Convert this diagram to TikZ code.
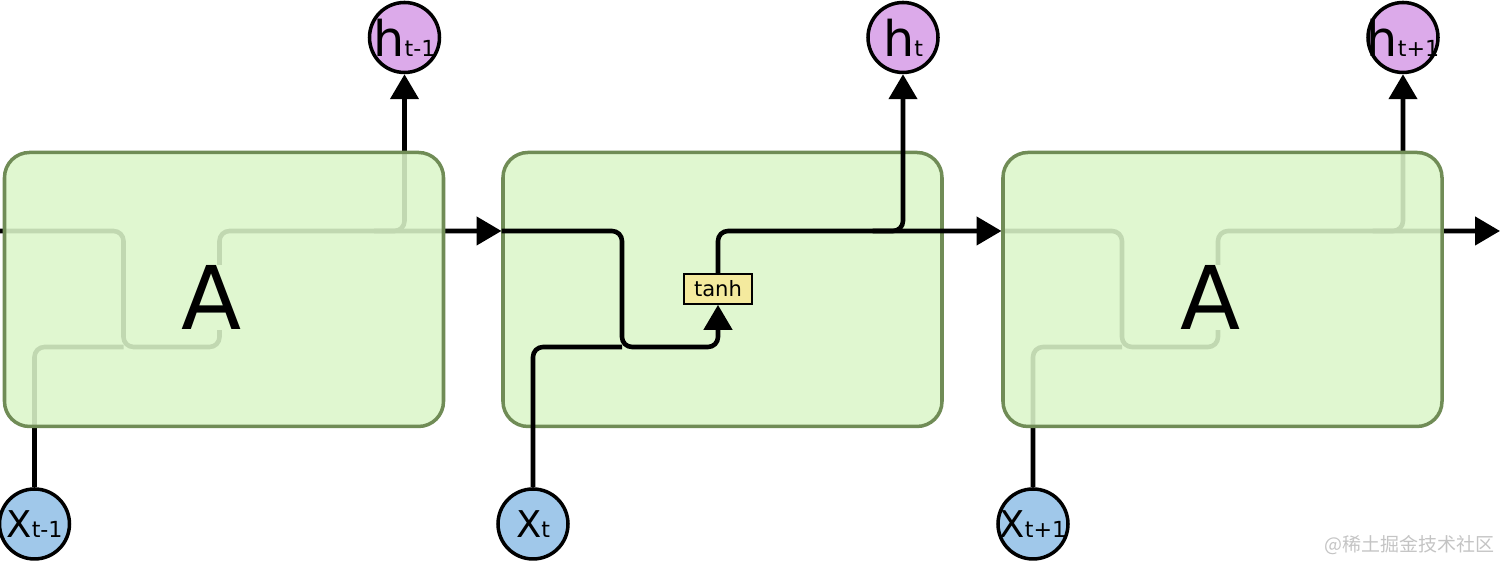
\documentclass[tikz,border=0pt]{standalone}
\usepackage{fontspec}
\setmainfont{DejaVu Sans}
\newfontfamily\cjk{Noto Sans CJK SC}
\usetikzlibrary{arrows.meta,positioning}
\definecolor{cellfill}{RGB}{224,247,208}
\definecolor{cellfade}{RGB}{220,246,202}
\definecolor{celledge}{RGB}{112,140,86}
\definecolor{hidfill}{RGB}{220,170,234}
\definecolor{inpfill}{RGB}{160,200,234}
\definecolor{actfill}{RGB}{244,234,158}
\tikzset{
  cell/.style={rectangle,rounded corners=0.25cm,draw=celledge,line width=1pt,
               fill=cellfill,minimum width=4.39cm,minimum height=2.74cm},
  fadecell/.style={cell,fill=cellfade,fill opacity=0.88},
  hid/.style={circle,draw=black,line width=1pt,fill=hidfill,
              minimum size=0.70cm,inner sep=0pt,
              font=\fontsize{14}{14}\selectfont},
  inp/.style={hid,fill=inpfill,font=\fontsize{10.5}{11}\selectfont},
  act/.style={rectangle,draw=black,line width=0.5pt,fill=actfill,
              minimum width=0.68cm,minimum height=0.30cm,inner sep=1pt,
              font=\fontsize{6}{6}\selectfont},
  letter/.style={fill=cellfill,inner sep=0pt,font=\fontsize{25}{25}\selectfont},
  flow/.style={line width=1.3pt,rounded corners=0.1cm},
  arrow/.style={flow,-{Triangle[length=0.25cm,width=0.28cm]}},
}
% label may spill over the circle, as in the drawing
\newcommand{\clab}[2]{\makebox[0pt]{#1{\fontsize{6.3}{7}\selectfont #2}}}

\begin{document}
\begin{tikzpicture}
  \useasboundingbox (0,0) rectangle (15,5.61);

  % middle cell sits under its lines
  \node[cell] (cell2) at (7.225,2.715) {};
  \node[act] (act2) at (7.18,2.72) {tanh};

  \foreach \n/\cx/\lbl in {1/2.24/t-1,2/7.225/t,3/12.225/t+1}{
    \node[hid] (h\n) at (\cx+1.805,5.235) {\clab{h}{\lbl}};
    \node[inp] (x\n) at (\cx-1.895,0.37) {\clab{X}{\lbl}};
    \coordinate (in\n) at (\cx-2.21,3.30);
    \coordinate (drop\n) at (\cx-1.005,2.14);
    \coordinate (bend\n) at (\cx+1.5,3.30);
  }
  \coordinate (in1) at (0,3.30);
  \coordinate (in4) at (15,3.30);
  \coordinate (act1) at (2.195,2.72);
  \coordinate (act3) at (12.18,2.72);

  % middle cell, through tanh
  \draw[arrow] (in2) -| (drop2) -| (act2.south);
  \draw[flow] (x2) |- (drop2);
  \draw[arrow] (act2.north) |- (in3);
  \draw[arrow] (bend2) -| (h2);

  % outer cells, seen through the box
  \foreach \n/\m in {1/2,3/4}{
    \draw[arrow] (in\n) -| (drop\n) -| (act\n) |- (in\m);
    \draw[flow] (x\n) |- (drop\n);
    \draw[arrow] (bend\n) -| (h\n);
  }

  \node[fadecell] (cell1) at (2.24,2.715) {};
  \node[fadecell] (cell3) at (12.225,2.715) {};
  \node[letter] (A1) at (2.12,2.635) {A};
  \node[letter] (A3) at (12.105,2.635) {A};

  \node[anchor=east,inner sep=0pt,text=black!23,
        font=\cjk\fontsize{5.4}{6}\selectfont] (mark) at (14.95,0.16)
    {@稀土掘金技术社区};
\end{tikzpicture}
\end{document}
